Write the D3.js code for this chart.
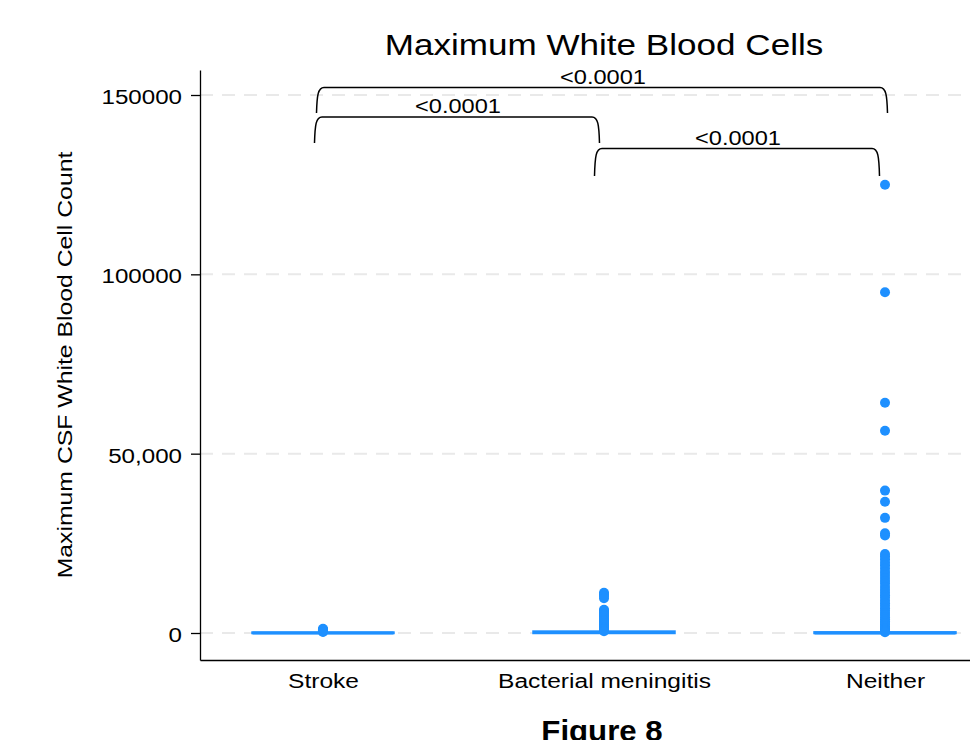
<!DOCTYPE html>
<html>
<head>
<meta charset="utf-8">
<script src="https://cdn.jsdelivr.net/npm/d3@7"></script>
<style>
  body { margin: 0; background: #fff; }
  text { font-family: "Liberation Sans", Arial, Helvetica, sans-serif; fill: #000; }
</style>
</head>
<body>
<div id="chart"></div>
<script>
// groups and axis labels
const groups = ['Stroke', 'Bacterial meningitis', 'Neither'];
const yTicks = [0, 50000, 100000, 150000];
const yTickLabels = ['0', '50,000', '100000', '150000'];

// box statistics per group (CSF WBC count)
const q1 = [2, 5, 3];
const median = [20, 150, 25];
const q3 = [120, 400, 180];
const whiskerHigh = [280, 900, 420];

// outlying counts per group
const strokeOutliers = [1150, 950, 800, 600, 450, 300];
const bacterialOutliers = [11200, 10800, 10300, 9700, 6500, 6200, 5800, 5300, 4900, 4500, 4000,
    3600, 3200, 2800, 2400, 2000, 1700, 1400, 1100, 800, 500];
const neitherOutliers = [125000, 95000, 64200, 56400, 39700, 36600, 32100, 27800, 27200,
    22000, 21300, 20500, 19600, 18800, 17900, 17000, 16200, 15300, 14500, 13700, 12800, 12000,
    11200, 10500, 9800, 9000, 8300, 7600, 6900, 6200, 5600, 5000, 4400, 3800, 3300, 2800, 2300,
    1800, 1400, 1000, 700, 400, 200];

// pairwise comparisons
const pairA = ['Stroke', 'Stroke', 'Bacterial meningitis'];
const pairB = ['Bacterial meningitis', 'Neither', 'Neither'];
const pLabels = ['<0.0001', '<0.0001', '<0.0001'];
const bracketTop = [143900, 152100, 135100];
const bracketBottom = [136600, 145000, 127400];

// svg setup
let svgWidth = 970;
let svgHeight = 740;
let plot = { left: 200, right: 1008, top: 70, bottom: 660 };
let blue = '#1E90FF';

let svg = d3.select('#chart').append('svg')
    .attr('width', svgWidth)
    .attr('height', svgHeight);

// scales
let x = d3.scalePoint()
    .domain(groups)
    .range([plot.left, plot.right])
    .padding(0.4377);

let y = d3.scaleLinear()
    .domain([-7528, 156970])
    .range([plot.bottom, plot.top]);

// dashed horizontal gridlines
svg.append('g').selectAll('line')
    .data(yTicks)
    .enter()
    .append('line')
    .attr('x1', plot.left)
    .attr('x2', svgWidth)
    .attr('y1', d => y(d))
    .attr('y2', d => y(d))
    .attr('stroke', '#e9e9e9')
    .attr('stroke-width', 2)
    .attr('stroke-dasharray', '13,9');

// y axis
let yAxis = svg.append('g')
    .attr('transform', `translate(${plot.left},0)`)
    .call(d3.axisLeft(y)
        .tickValues(yTicks)
        .tickFormat((d, i) => yTickLabels[i])
        .tickSize(9)
        .tickSizeOuter(0));
yAxis.select('.domain').attr('stroke', '#000').attr('stroke-width', 1.3);
yAxis.selectAll('.tick line').attr('stroke', '#000').attr('stroke-width', 1.3);
yAxis.selectAll('.tick text')
    .attr('x', null).attr('dy', null)
    .attr('font-size', 21)
    .attr('font-family', null)
    .attr('transform', 'translate(-18,8.5) scale(1.15,1)');

// x axis
let xAxis = svg.append('g')
    .attr('transform', `translate(0,${plot.bottom})`)
    .call(d3.axisBottom(x).tickSize(0).tickSizeOuter(0));
xAxis.select('.domain').attr('stroke', '#000').attr('stroke-width', 1.3);
xAxis.selectAll('.tick text')
    .attr('y', null).attr('dy', null)
    .attr('font-size', 21)
    .attr('font-family', null)
    .attr('transform', 'translate(0,28) scale(1.17,1)');

// boxes
let boxWidth = 141;
let boxes = svg.append('g');
groups.forEach(function(g, i) {
    let cx = x(g);
    boxes.append('line')
        .attr('x1', cx).attr('x2', cx)
        .attr('y1', y(q3[i])).attr('y2', y(whiskerHigh[i]))
        .attr('stroke', blue).attr('stroke-width', 2.5);
    boxes.append('rect')
        .attr('x', cx - boxWidth / 2)
        .attr('width', boxWidth)
        .attr('y', y(q3[i]))
        .attr('height', y(q1[i]) - y(q3[i]))
        .attr('fill', blue)
        .attr('stroke', blue)
        .attr('stroke-width', 2.5);
    boxes.append('line')
        .attr('x1', cx - boxWidth / 2).attr('x2', cx + boxWidth / 2)
        .attr('y1', y(median[i])).attr('y2', y(median[i]))
        .attr('stroke', blue).attr('stroke-width', 3);
});

// outlier points
let outliers = [strokeOutliers, bacterialOutliers, neitherOutliers];
groups.forEach(function(g, i) {
    svg.append('g').selectAll('circle')
        .data(outliers[i])
        .enter()
        .append('circle')
        .attr('cx', x(g))
        .attr('cy', d => y(d))
        .attr('r', 5)
        .attr('fill', blue);
});

// significance brackets
let nudgeA = [-7, -5, -8];
let nudgeB = [-6, 1, -7];
let brackets = svg.append('g');
pLabels.forEach(function(label, i) {
    let x1 = x(pairA[i]) + nudgeA[i];
    let x2 = x(pairB[i]) + nudgeB[i];
    let yt = y(bracketTop[i]);
    let yb = y(bracketBottom[i]);
    let path = `M${x1 - 1.5},${yb} C${x1 - 1},${yt + 8} ${x1},${yt} ${x1 + 6},${yt}` +
        ` L${x2 - 6},${yt} C${x2},${yt} ${x2 + 1},${yt + 8} ${x2 + 1.5},${yb}`;
    brackets.append('path')
        .attr('d', path)
        .attr('fill', 'none')
        .attr('stroke', '#000')
        .attr('stroke-width', 1.5);
    brackets.append('text')
        .attr('text-anchor', 'middle')
        .attr('font-size', 20)
        .attr('transform', `translate(${(x1 + x2) / 2 + 1},${yt - 3.5}) scale(1.18,1)`)
        .text(label);
});

// title
svg.append('text')
    .attr('text-anchor', 'middle')
    .attr('font-size', 29)
    .attr('transform', 'translate(604,55) scale(1.21,1)')
    .text('Maximum White Blood Cells');

// y label
svg.append('text')
    .attr('text-anchor', 'middle')
    .attr('font-size', 21)
    .attr('transform', 'translate(72,365) rotate(-90) scale(1.18,1)')
    .text('Maximum CSF White Blood Cell Count');

// caption
svg.append('text')
    .attr('text-anchor', 'middle')
    .attr('font-size', 30)
    .attr('font-weight', 'bold')
    .attr('transform', 'translate(602,741) scale(1.04,1)')
    .text('Figure 8');
</script>
</body>
</html>
